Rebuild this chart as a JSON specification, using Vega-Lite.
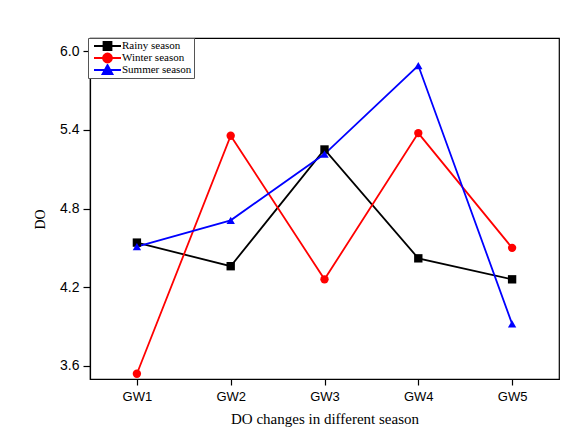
{
  "$schema": "https://vega.github.io/schema/vega-lite/v6.json",
  "autosize": {"type": "none"},
  "padding": {"left": 90, "top": 38, "right": 23, "bottom": 53},
  "width": 469,
  "height": 341,
  "background": "white",
  "config": {
    "view": {"stroke": "black", "strokeWidth": 1.2},
    "axis": {"domainColor": "black", "tickColor": "black", "labelColor": "black", "titleColor": "black", "grid": false, "domainWidth": 1.2, "tickWidth": 1.2}
  },
  "data": {
    "values": [
      {"season": "Rainy season", "site": "GW1", "DO": 4.54},
      {"season": "Rainy season", "site": "GW2", "DO": 4.36},
      {"season": "Rainy season", "site": "GW3", "DO": 5.25},
      {"season": "Rainy season", "site": "GW4", "DO": 4.42},
      {"season": "Rainy season", "site": "GW5", "DO": 4.26},
      {"season": "Winter season", "site": "GW1", "DO": 3.54},
      {"season": "Winter season", "site": "GW2", "DO": 5.355},
      {"season": "Winter season", "site": "GW3", "DO": 4.26},
      {"season": "Winter season", "site": "GW4", "DO": 5.375},
      {"season": "Winter season", "site": "GW5", "DO": 4.5},
      {"season": "Summer season", "site": "GW1", "DO": 4.51},
      {"season": "Summer season", "site": "GW2", "DO": 4.71},
      {"season": "Summer season", "site": "GW3", "DO": 5.215},
      {"season": "Summer season", "site": "GW4", "DO": 5.89},
      {"season": "Summer season", "site": "GW5", "DO": 3.92}
    ]
  },
  "encoding": {
    "x": {
      "field": "site", "type": "ordinal",
      "scale": {"type": "point", "padding": 0.5, "domain": ["GW1", "GW2", "GW3", "GW4", "GW5"]},
      "axis": {"labelAngle": 0, "labelFont": "Liberation Sans", "labelFontSize": 13, "tickSize": 6, "labelPadding": 5, "title": "DO changes in different season", "titleFont": "Liberation Serif", "titleFontSize": 15, "titleFontWeight": "normal", "titlePadding": 8}
    },
    "y": {
      "field": "DO", "type": "quantitative",
      "scale": {"domain": [3.5, 6.1], "nice": false, "zero": false},
      "axis": {"values": [3.6, 4.2, 4.8, 5.4, 6.0], "format": ".1f", "labelFont": "Liberation Sans", "labelFontSize": 14, "tickSize": 7, "labelPadding": 4, "title": "DO", "titleFont": "Liberation Serif", "titleFontSize": 14, "titleFontWeight": "normal", "titleX": -50, "titleY": 181, "titleBaseline": "middle"}
    }
  },
  "layer": [
    {
      "mark": {"type": "line", "strokeWidth": 1.8},
      "encoding": {
        "color": {"field": "season", "type": "nominal", "scale": {"domain": ["Rainy season", "Winter season", "Summer season"], "range": ["#000000", "#ff0000", "#0000ff"]}, "legend": null}
      }
    },
    {
      "mark": {"type": "point", "filled": true, "opacity": 1, "size": 70},
      "encoding": {
        "color": {"field": "season", "type": "nominal", "scale": {"domain": ["Rainy season", "Winter season", "Summer season"], "range": ["#000000", "#ff0000", "#0000ff"]}, "legend": null},
        "shape": {"field": "season", "type": "nominal", "scale": {"domain": ["Rainy season", "Winter season", "Summer season"], "range": ["square", "circle", "triangle-up"]}, "legend": null}
      }
    },
    {
      "transform": [{"filter": "false"}],
      "mark": {"type": "point", "filled": true, "opacity": 1, "size": 36, "strokeWidth": 1.8},
      "encoding": {
        "fill": {"field": "season", "type": "nominal", "scale": {"domain": ["Rainy season", "Winter season", "Summer season"], "range": ["#000000", "#ff0000", "#0000ff"]}, "legend": {"title": null}},
        "stroke": {"field": "season", "type": "nominal", "scale": {"domain": ["Rainy season", "Winter season", "Summer season"], "range": ["#000000", "#ff0000", "#0000ff"]}, "legend": {"title": null}},
        "shape": {
          "field": "season", "type": "nominal",
          "scale": {"domain": ["Rainy season", "Winter season", "Summer season"], "range": [
            "M-4.5,0H4.5M-1.33,-1.33H1.33V1.33H-1.33Z",
            "M-4.5,0H4.5M-1.5,0A1.5,1.5 0 1,0 1.5,0A1.5,1.5 0 1,0 -1.5,0Z",
            "M-4.5,0H4.5M0,-1.67L1.67,1.33H-1.67Z"
          ]},
          "legend": {
            "title": null, "orient": "none", "legendX": -2, "legendY": 0,
            "padding": 2, "strokeColor": "#555555", "fillColor": "white",
            "symbolSize": 36, "symbolStrokeWidth": 1.8, "symbolOffset": 12,
            "labelOffset": 9, "labelFont": "Liberation Serif", "labelFontSize": 11, "labelColor": "black",
            "rowPadding": 0, "clipHeight": 12
          }
        }
      }
    }
  ],
  "resolve": {"scale": {"shape": "independent", "fill": "independent", "stroke": "independent"}}
}
